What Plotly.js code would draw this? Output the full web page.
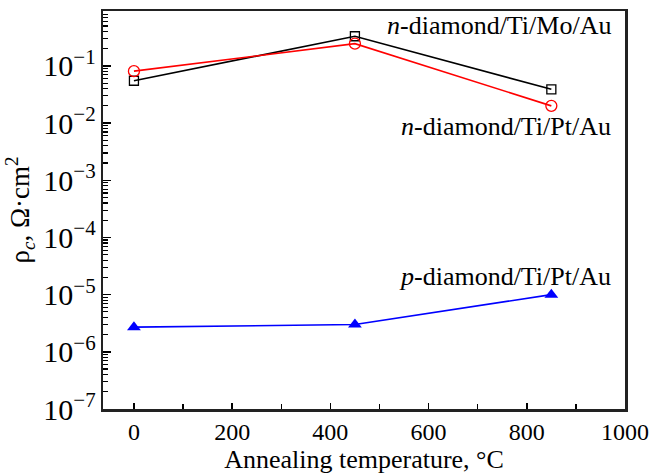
<!DOCTYPE html>
<html><head><meta charset="utf-8">
<script src="https://cdn.plot.ly/plotly-3.0.1.min.js"></script>
<style>html,body{margin:0;padding:0;background:#fff;}#chart{width:653px;height:475px;}</style>
</head><body><div id="chart"></div>
<script>
const temperatures = [0, 450, 850];
const nTiMoAu = [0.055, 0.33, 0.039];
const nTiPtAu = [0.081, 0.245, 0.020];
const pTiPtAu = [2.7e-6, 3.0e-6, 1.0e-5];
const labels = ["<i>n</i>-diamond/Ti/Mo/Au", "<i>n</i>-diamond/Ti/Pt/Au", "<i>p</i>-diamond/Ti/Pt/Au"];

const font = "'Liberation Serif', 'Times New Roman', serif";
const traces = [
  {x: temperatures, y: nTiMoAu, mode: "lines+markers", line: {color: "#000", width: 1.6},
   marker: {symbol: "square-open", size: 9, color: "#000", line: {width: 1.3}}},
  {x: temperatures, y: nTiPtAu, mode: "lines+markers", line: {color: "#ff0000", width: 1.6},
   marker: {symbol: "circle-open", size: 11, color: "#ff0000", line: {width: 1.3}}},
  {x: temperatures, y: pTiPtAu, mode: "lines+markers", line: {color: "#0000ff", width: 1.6},
   marker: {symbol: "triangle-up", size: 12, color: "#0000ff"}}
];
const layout = {
  width: 653, height: 475,
  margin: {l: 103, r: 28, t: 11, b: 66},
  paper_bgcolor: "#fff", plot_bgcolor: "#fff",
  showlegend: false,
  font: {family: font, size: 24, color: "#000"},
  xaxis: {
    range: [-63, 1000], tickvals: [0, 200, 400, 600, 800, 1000],
    ticks: "inside", ticklen: 6, tickwidth: 1.5, tickcolor: "#000",
    minor: {tickvals: [100, 300, 500, 700, 900], ticks: "inside", ticklen: 5, tickwidth: 1.5, tickcolor: "#000"},
    showline: true, linecolor: "#222", linewidth: 2.5, mirror: true,
    showgrid: false, zeroline: false,
    tickfont: {size: 24, family: font},
    title: {text: "Annealing temperature, °C", font: {size: 26, family: font}, standoff: 0}
  },
  yaxis: {
    type: "log", range: [-7, -0.04], dtick: 1, exponentformat: "power",
    ticks: "inside", ticklen: 8, tickwidth: 1.5, tickcolor: "#000",
    minor: {dtick: "D1", ticks: "inside", ticklen: 5, tickwidth: 1.2, tickcolor: "#000", showgrid: false},
    showline: true, linecolor: "#222", linewidth: 2.5, mirror: true,
    showgrid: false, zeroline: false,
    tickfont: {size: 24, family: font},
    title: {text: "ρ<sub><i>c</i></sub>, Ω·cm<sup>2</sup>", font: {size: 27, family: font}, standoff: 6}
  },
  annotations: [
    {x: 1.0, xref: "x domain", xanchor: "right", y: Math.log10(0.5), yref: "y", text: labels[0], showarrow: false, font: {size: 26, family: font}, xshift: -12},
    {x: 1.0, xref: "x domain", xanchor: "right", y: Math.log10(0.0088), yref: "y", text: labels[1], showarrow: false, font: {size: 26, family: font}, xshift: -12},
    {x: 1.0, xref: "x domain", xanchor: "right", y: Math.log10(2.1e-5), yref: "y", text: labels[2], showarrow: false, font: {size: 26, family: font}, xshift: -12}
  ]
};
Plotly.newPlot("chart", traces, layout, {displayModeBar: false, staticPlot: true});
</script></body></html>
